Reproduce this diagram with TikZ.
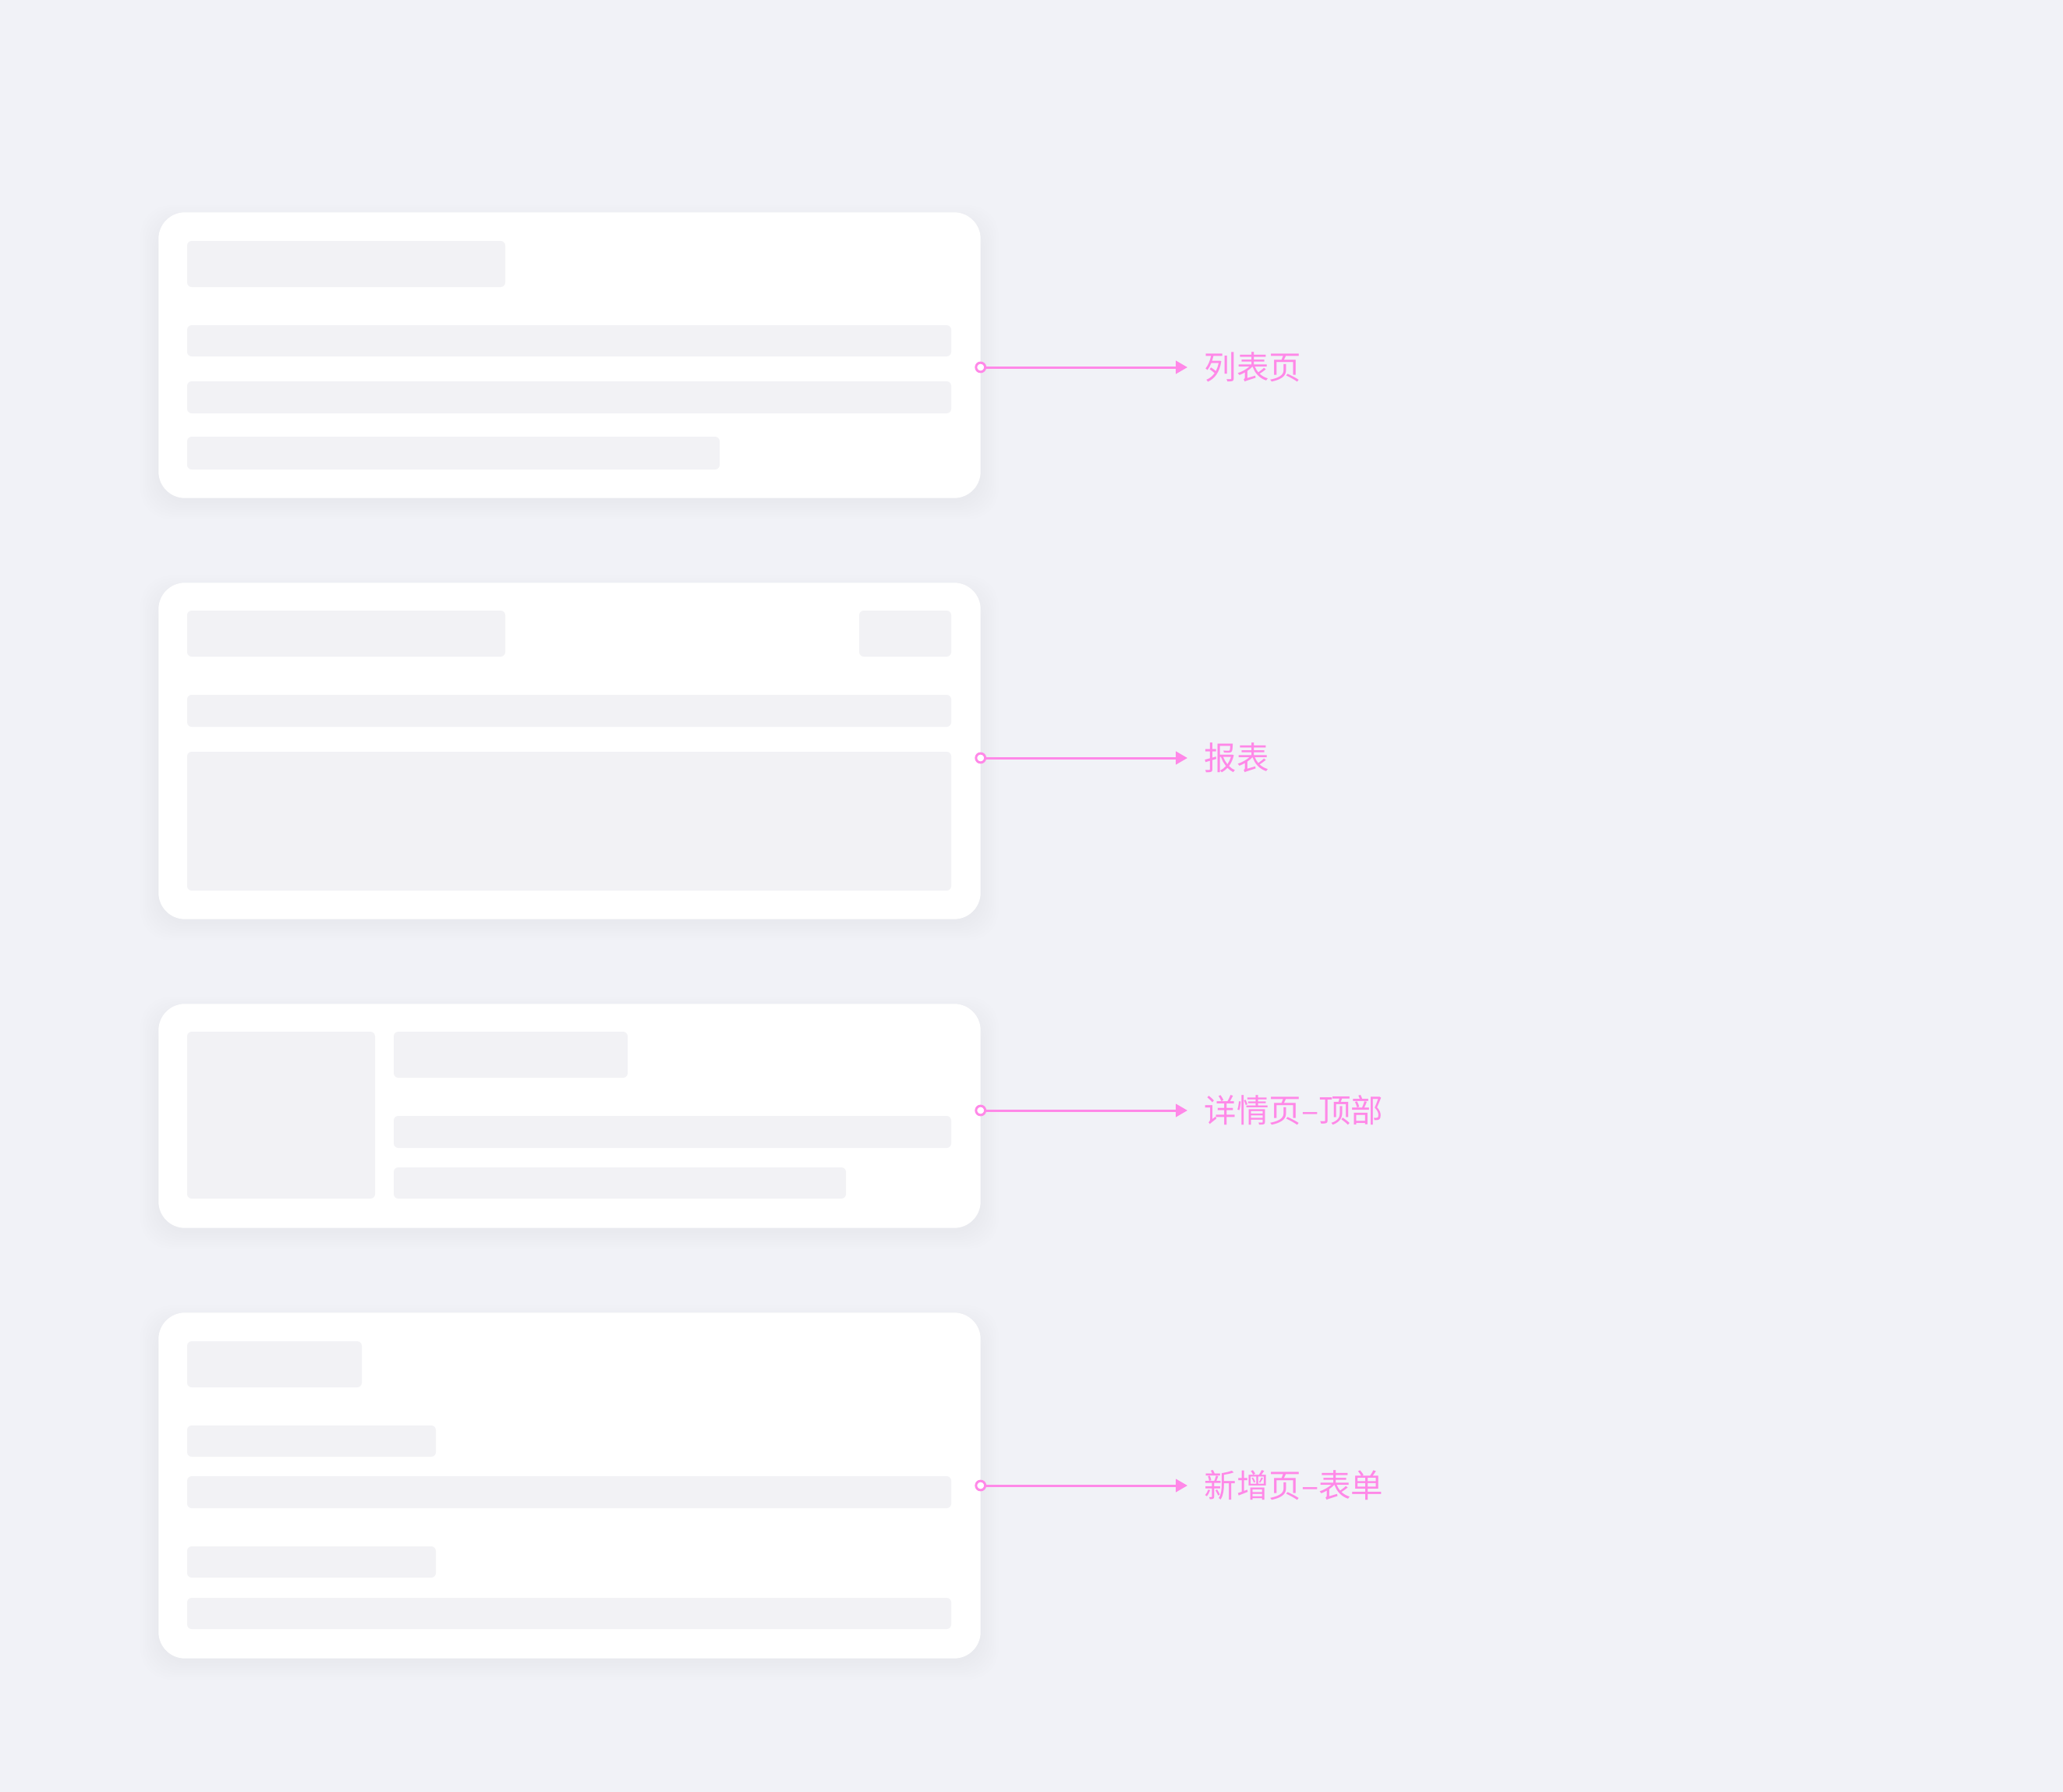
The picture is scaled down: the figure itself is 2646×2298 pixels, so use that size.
\documentclass[tikz,border=0pt]{standalone}
\usepackage{fontspec}
\newfontfamily\cjk{Noto Sans CJK SC}
\usepackage{tikz}
\usetikzlibrary{arrows.meta}
\definecolor{bggray}{HTML}{F1F2F7}
\definecolor{phgray}{HTML}{F2F2F5}
\definecolor{pinkline}{HTML}{FF88E8}
\begin{document}
\begin{tikzpicture}[x=0.1mm,y=-0.1mm]
\tikzstyle{card}=[inner sep=0,minimum width=105.3mm]
\tikzstyle{ph}=[fill=phgray,rounded corners=0.6mm]
\tikzstyle{lab}=[anchor=west,inner xsep=2.1mm,inner ysep=0mm,text=pinkline,font=\cjk\fontsize{11.8pt}{12pt}\selectfont]
\tikzstyle{link}=[draw=pinkline,line width=0.85pt,{Circle[length=4.2pt,fill=white,line width=0.85pt]}-{Triangle[length=4.2pt,width=4.6pt]}]
\fill[bggray] (0,0) rectangle (2646,2298);
\path (730.5,455.5) node[card,minimum height=36.5mm] (c1) {};
\path (730.5,963) node[card,minimum height=43mm] (c2) {};
\path (730.5,1431) node[card,minimum height=28.6mm] (c3) {};
\path (730.5,1905) node[card,minimum height=44.2mm] (c4) {};
\foreach \c in {c1,c2,c3,c4}{
\foreach \s in {2,5,...,23}
\fill[black,opacity=0.0035,rounded corners=3.8mm] ([shift={(-\s,\s+4)}]\c.south west) rectangle ([shift={(\s,-\s+14)}]\c.north east);
\fill[white,rounded corners=3.4mm] (\c.south west) rectangle (\c.north east);
}
\fill[ph] (240,309) rectangle (648,368);
\fill[ph] (240,417) rectangle (1220,457);
\fill[ph] (240,489) rectangle (1220,530);
\fill[ph] (240,560) rectangle (923,602);
\fill[ph] (240,783) rectangle (648,842);
\fill[ph] (1102,783) rectangle (1220,842);
\fill[ph] (240,891) rectangle (1220,932);
\fill[ph] (240,964) rectangle (1220,1142);
\fill[ph] (240,1323) rectangle (481,1537);
\fill[ph] (505,1323) rectangle (805,1382);
\fill[ph] (505,1431) rectangle (1220,1472);
\fill[ph] (505,1497) rectangle (1085,1537);
\fill[ph] (240,1720) rectangle (464,1779);
\fill[ph] (240,1828) rectangle (559,1868);
\fill[ph] (240,1893) rectangle (1220,1934);
\fill[ph] (240,1983) rectangle (559,2023);
\fill[ph] (240,2049) rectangle (1220,2089);
\path (1523,471) node[lab] (l1) {列表页};
\path (1523,972) node[lab] (l2) {报表};
\path (1523,1424) node[lab] (l3) {详情页–顶部};
\path (1523,1905) node[lab] (l4) {新增页–表单};
\draw[link] ([xshift=-2.1pt]c1.east |- l1.west) -- (l1.west);
\draw[link] ([xshift=-2.1pt]c2.east |- l2.west) -- (l2.west);
\draw[link] ([xshift=-2.1pt]c3.east |- l3.west) -- (l3.west);
\draw[link] ([xshift=-2.1pt]c4.east |- l4.west) -- (l4.west);
\end{tikzpicture}
\end{document}
